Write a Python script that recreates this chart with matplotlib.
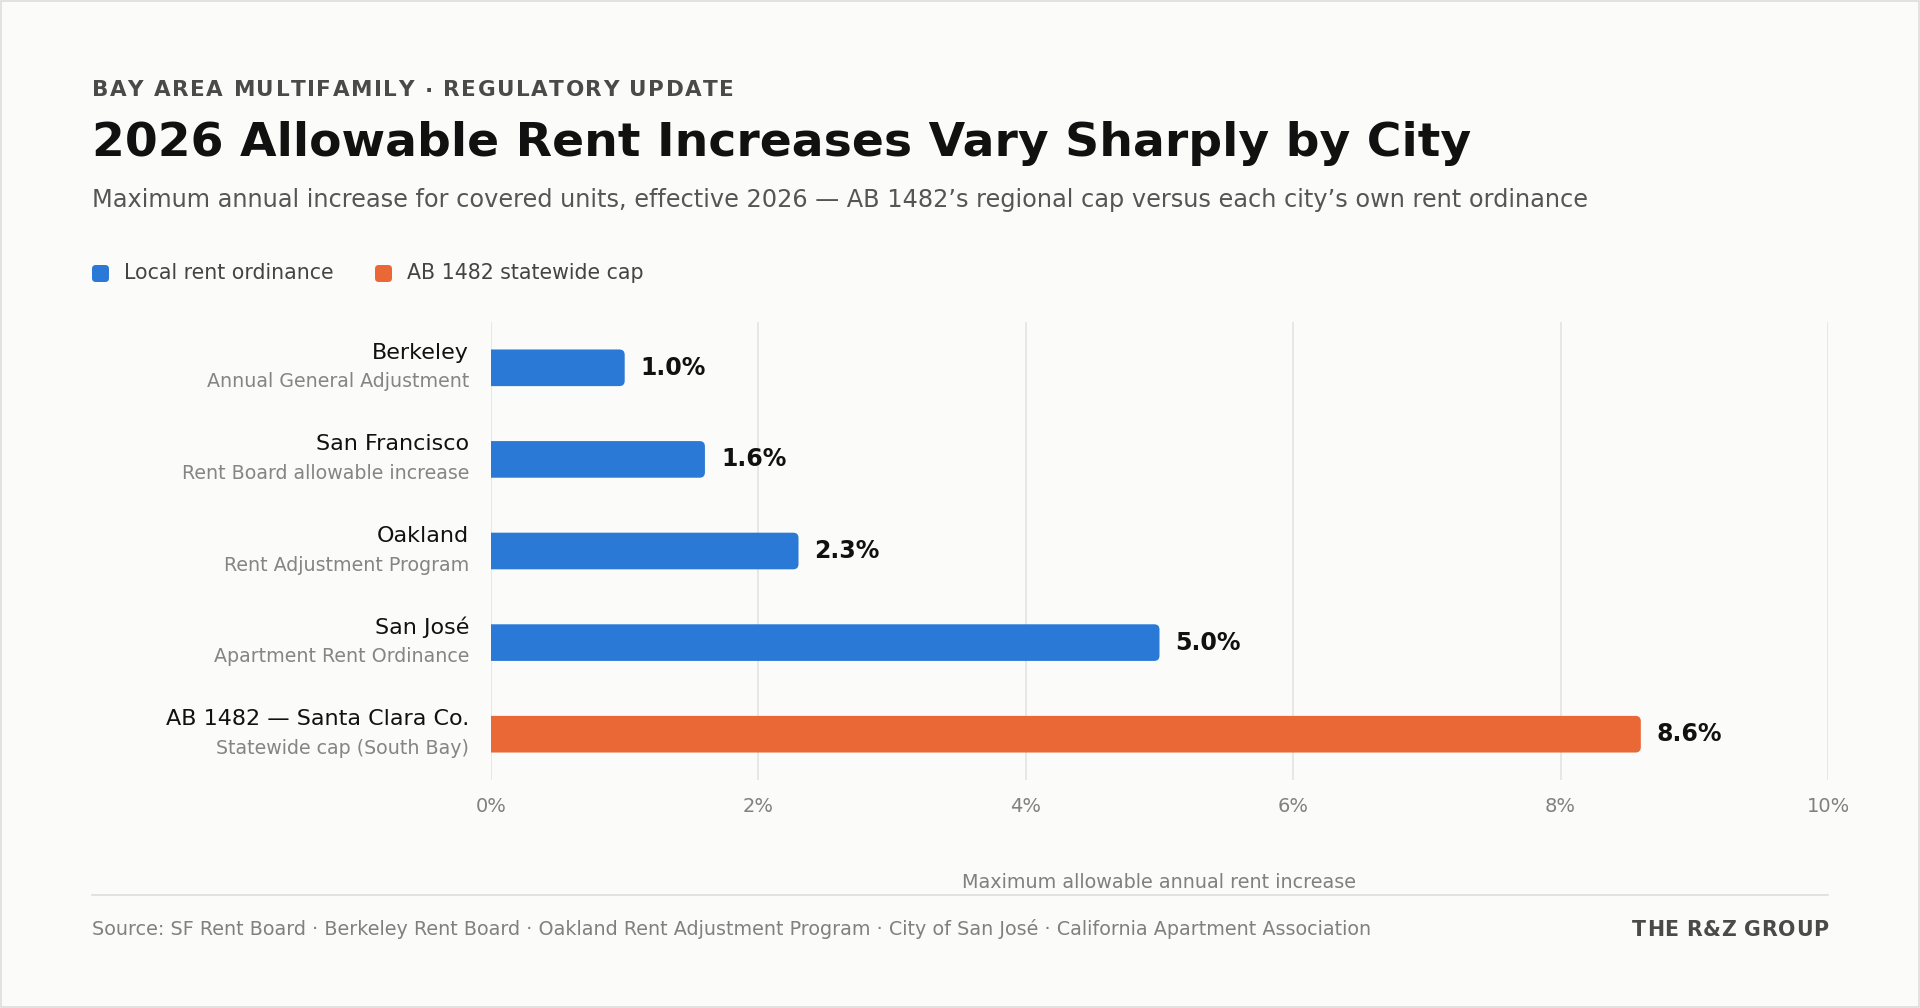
import matplotlib
matplotlib.use("Agg")
import matplotlib.pyplot as plt
from matplotlib.patches import FancyBboxPatch, Rectangle
from matplotlib.font_manager import FontProperties, findfont, get_font

plt.rcParams['font.family'] = ['DejaVu Sans']

cities = ["Berkeley", "San Francisco", "Oakland", "San José", "AB 1482 — Santa Clara Co."]
programs = ["Annual General Adjustment", "Rent Board allowable increase", "Rent Adjustment Program",
            "Apartment Rent Ordinance", "Statewide cap (South Bay)"]
values = [1.0, 1.6, 2.3, 5.0, 8.6]
kinds = ["local", "local", "local", "local", "state"]
xticks = [0, 2, 4, 6, 8, 10]
xtick_labels = ["0%", "2%", "4%", "6%", "8%", "10%"]

BLUE = "#2a79d7"
ORANGE = "#ea6835"
colors = {"local": BLUE, "state": ORANGE}
BG = "#fbfbf9"

W, H = 1920, 1008
DPI = 100
fig = plt.figure(figsize=(W / DPI, H / DPI), dpi=DPI, facecolor=BG)
HF = float(plt.rcParams.get('text.hinting_factor', 8))

def fy(px):
    return 1 - px / H

def fx(px):
    return px / W

def glyph_metrics(s, prop):
    font = get_font(findfont(prop))
    font.set_size(prop.get_size_in_points(), DPI)
    out = []
    sc = 64.0 * HF
    for ch in s:
        g = font.load_char(ord(ch))
        out.append((g.horiAdvance / sc, g.horiBearingX / sc, g.width / sc))
    return out

def tracked_text(x_px, y_px, s, size, weight, color, track_px, align="left"):
    prop = FontProperties(family="DejaVu Sans", size=size, weight=weight)
    m = glyph_metrics(s, prop)
    pens = []
    pen = 0.0
    for i, (adv, lsb, wid) in enumerate(m):
        pens.append(pen)
        pen += adv + track_px
    lsb0 = m[0][1]
    arts = []
    for i, ch in enumerate(s):
        if ch == " ":
            continue
        xo = pens[i] + m[i][1] - lsb0
        t = fig.text(fx(x_px + xo), fy(y_px), ch, fontproperties=prop, color=color,
                     ha="left", va="baseline")
        arts.append((t, xo))
    # align the drawn ink extent to the anchor
    fig.canvas.draw()
    rend = fig.canvas.get_renderer()
    if align == "left":
        edge = arts[0][0].get_window_extent(rend).x0
        shift = x_px - edge
    else:
        edge = arts[-1][0].get_window_extent(rend).x1
        shift = x_px - edge
    for t, xo in arts:
        t.set_x(fx(x_px + xo + shift))

# border
fig.patches.append(Rectangle((0.0005, 0.001), 0.999, 0.998, transform=fig.transFigure,
                             fill=False, edgecolor="#dddddd", linewidth=1.2))

ax = fig.add_axes([fx(491), fy(780), fx(1828) - fx(491), fy(322) - fy(780)])
ax.set_facecolor(BG)
ax.set_xlim(0, 10)
n = len(values)
ax.set_ylim(n - 0.5, -0.5)
for s in ax.spines.values():
    s.set_visible(False)
ax.set_xticks(xticks)
ax.set_xticklabels(xtick_labels, color="#808080", fontsize=14)
ax.tick_params(axis="x", length=0, pad=12.5)
ax.set_yticks([])
ax.grid(axis="x", color="#e2e2e0", linewidth=1.1)
ax.set_axisbelow(True)

bh = 0.4
px_x = (1828 - 491) / 10.0
px_y = (780 - 322) / float(n)
r = 0.04
for i, (v, k) in enumerate(zip(values, kinds)):
    c = colors[k]
    p = FancyBboxPatch((-r * 2, i - bh / 2), v + r * 2, bh,
                       boxstyle=f"round,pad=0,rounding_size={r}",
                       mutation_aspect=px_x / px_y,
                       facecolor=c, edgecolor="none", zorder=3, clip_on=True)
    ax.add_patch(p)
    ax.annotate(f"{v:.1f}%", xy=(v, i), xytext=(16, 0), textcoords="offset pixels",
                ha="left", va="center", fontsize=17, fontweight="bold", color="#111111")
    ax.annotate(cities[i], xy=(0, i), xytext=(-22, 15), textcoords="offset pixels",
                ha="right", va="center", fontsize=16, color="#111111", annotation_clip=False)
    ax.annotate(programs[i], xy=(0, i), xytext=(-22, -14), textcoords="offset pixels",
                ha="right", va="center", fontsize=13.7, color="#858585", annotation_clip=False)

# header
tracked_text(92, 96.5, "BAY AREA MULTIFAMILY · REGULATORY UPDATE", 15.5, "bold", "#4a4a48", 1.5)
fig.text(fx(92), fy(144), "2026 Allowable Rent Increases Vary Sharply by City", fontsize=34,
         fontweight="bold", color="#111111", ha="left", va="center")
fig.text(fx(92), fy(200), "Maximum annual increase for covered units, effective 2026 — AB 1482’s regional cap versus each city’s own rent ordinance",
         fontsize=17.3, color="#555555", ha="left", va="center")

# legend
legend_items = [("Local rent ordinance", BLUE, 92), ("AB 1482 statewide cap", ORANGE, 375)]
for label, c, x0 in legend_items:
    fig.patches.append(FancyBboxPatch((fx(x0), fy(282)), fx(17), 17 / H,
                                      boxstyle="round,pad=0,rounding_size=0.002",
                                      mutation_aspect=W / H,
                                      transform=fig.transFigure, facecolor=c, edgecolor="none"))
    fig.text(fx(x0 + 32), fy(273), label, fontsize=14.8, color="#444444", ha="left", va="center")

# x label
fig.text((fx(491) + fx(1828)) / 2, fy(883), "Maximum allowable annual rent increase", fontsize=13.75,
         color="#808080", ha="center", va="center")

# footer
fig.add_artist(plt.Line2D([fx(92), fx(1828)], [fy(895), fy(895)], transform=fig.transFigure,
                          color="#dddddd", linewidth=1.2))
fig.text(fx(92), fy(929), "Source: SF Rent Board · Berkeley Rent Board · Oakland Rent Adjustment Program · City of San José · California Apartment Association",
         fontsize=13.8, color="#808080", ha="left", va="center")
tracked_text(1828, 936.5, "THE R&Z GROUP", 14.8, "bold", "#4a4a48", 0.5, align="right")

fig.savefig("out.png", dpi=DPI, facecolor=BG)
